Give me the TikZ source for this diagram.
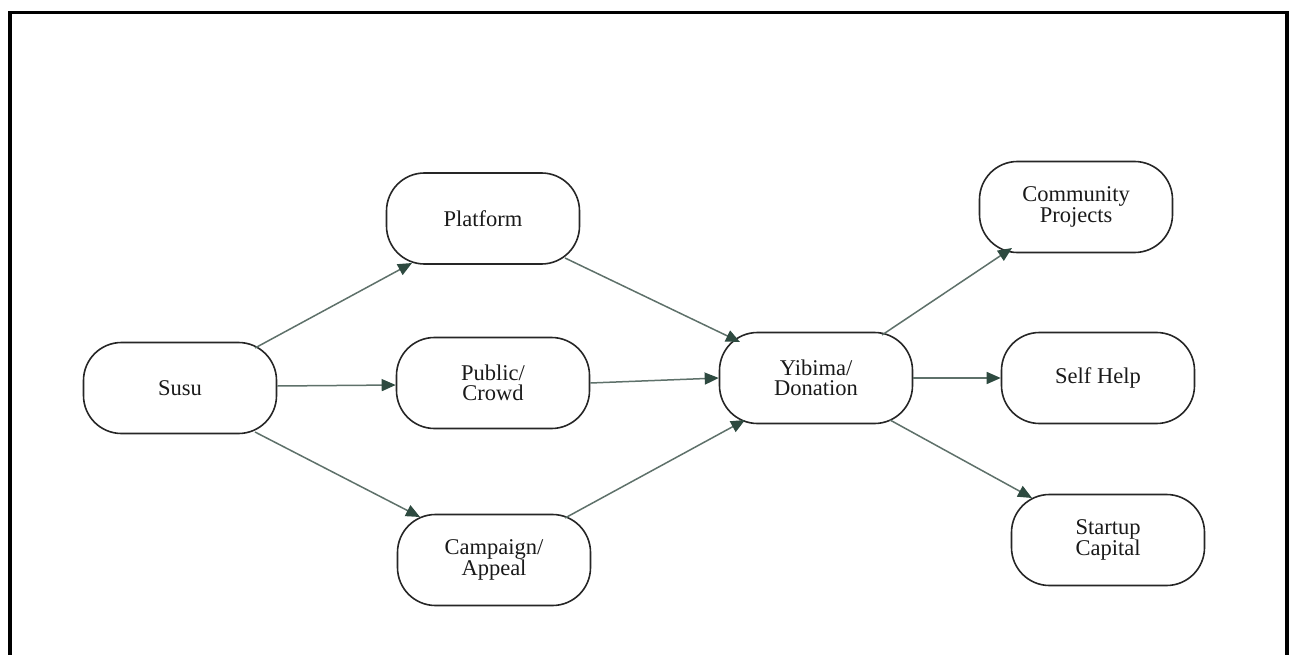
\documentclass[tikz,border=0pt]{standalone}
\usepackage{fontspec}
\setmainfont{Liberation Serif}
\usetikzlibrary{arrows.meta,calc}
\definecolor{lineclr}{HTML}{5E716A}
\definecolor{headclr}{HTML}{2E4A40}
\definecolor{txtclr}{HTML}{1A1A1A}
\begin{document}
\begin{tikzpicture}[x=1pt,y=-1pt,
  box/.style={draw=black!85, line width=1.6pt, rounded corners=38pt,
    minimum width=193pt, minimum height=91pt, inner sep=0pt,
    align=center, text=txtclr, font=\fontsize{22.5}{20.5}\selectfont},
  arr/.style={draw=lineclr, line width=1.5pt,
    -{Triangle[length=14pt,width=12pt,color=headclr]}}]
\useasboundingbox (0,0) rectangle (1293,655);
\fill[white] (0,0) rectangle (1293,655);
\draw[line width=3.2pt, black] (10,670) -- (10,12.5) -- (1287,12.5) -- (1287,670);

\node[box] (susu) at (180,388) {Susu};
\node[box] (platform) at (483,218.5) {Platform};
\node[box] (public) at (493,383) {Public/\\Crowd};
\node[box] (campaign) at (494,560) {Campaign/\\Appeal};
\node[box] (yibima) at (816,378) {Yibima/\\Donation};
\node[box] (community) at (1076,207) {Community\\Projects};
\node[box] (selfhelp) at (1098,378) {Self Help};
\node[box] (startup) at (1108,540) {Startup\\Capital};

\draw[arr] ($(susu.center)+(75,-40)$) -- ($(platform.center)+(-71,44.5)$);
\draw[arr] ($(susu.east)+(0,-2)$) -- ($(public.west)+(0,2)$);
\draw[arr] ($(susu.center)+(75,44)$) -- ($(campaign.center)+(-74,-43)$);
\draw[arr] ($(platform.center)+(82,39.5)$) -- ($(yibima.center)+(-76,-36)$);
\draw[arr] (public.east) -- (yibima.west);
\draw[arr] ($(campaign.center)+(71,-42)$) -- ($(yibima.center)+(-71,42)$);
\draw[arr] ($(yibima.center)+(66,-43)$) -- ($(community.center)+(-64,41)$);
\draw[arr] (yibima.east) -- (selfhelp.west);
\draw[arr] ($(yibima.center)+(74,42)$) -- ($(startup.center)+(-76,-42)$);
\end{tikzpicture}
\end{document}
